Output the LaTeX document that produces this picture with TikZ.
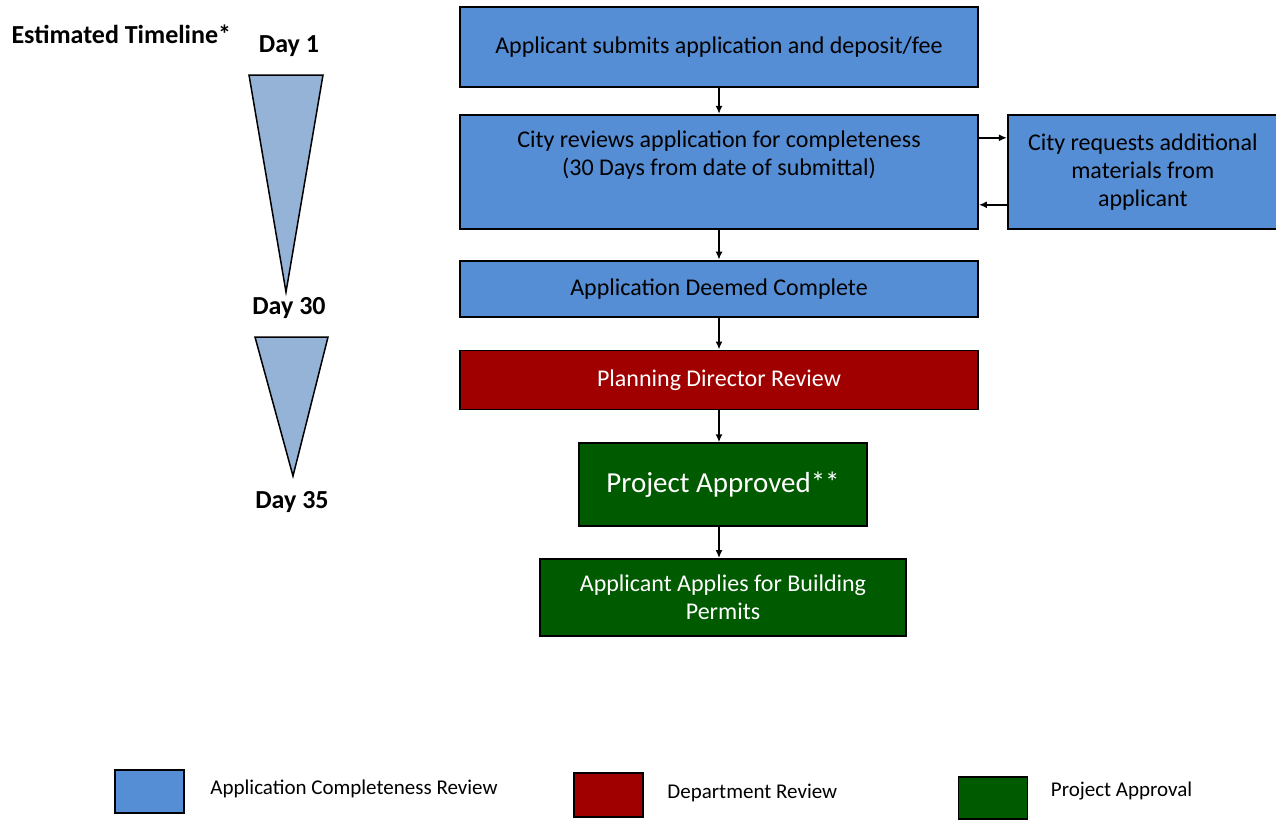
\documentclass[tikz,border=0pt]{standalone}
\usepackage{fontspec}
\setmainfont{Carlito}
\usetikzlibrary{arrows.meta, positioning}
\definecolor{reviewblue}{HTML}{558ED5}
\definecolor{deptred}{HTML}{A00000}
\definecolor{approvegreen}{HTML}{005A00}
\definecolor{wedgeblue}{HTML}{95B3D7}
\tikzset{
  box/.style={draw=black, line width=1.8pt, rectangle, align=center, inner sep=0pt},
  review/.style={box, fill=reviewblue, minimum width=518pt},
  dept/.style={box, fill=deptred, text=white, minimum width=518pt},
  approve/.style={box, fill=approvegreen, text=white},
  swatch/.style={draw, line width=1.8pt, minimum width=69pt, minimum height=43pt, inner sep=0pt},
  flow/.style={-{Latex[length=8pt,width=7pt]}, line width=1.8pt},
  wedge/.style={fill=wedgeblue, draw=black, line width=1.5pt},
  daylabel/.style={font=\fontsize{26}{30}\selectfont\bfseries},
  legendtext/.style={font=\fontsize{21}{24}\selectfont},
}

\begin{document}
\begin{tikzpicture}[x=1pt, y=-1pt, font=\fontsize{24}{28}\selectfont]
  \useasboundingbox (0,0) rectangle (1276,819);

  % timeline on the left
  \node[daylabel, anchor=west] (est) at (8,34) {Estimated Timeline*};
  \node[daylabel] (day1) at (289,46) {Day 1};
  \draw[wedge] (249,75) -- (323,75) -- (286,292) -- cycle;
  \node[daylabel] (day30) at (289,308) {Day 30};
  \draw[wedge] (255,337) -- (328,337) -- (293,476) -- cycle;
  \node[daylabel] (day35) at (292,502) {Day 35};

  % process
  \node[review, minimum height=80pt] (submit) at (719,47) {Applicant submits application and deposit/fee};
  \node[review, minimum height=114pt, below=26pt of submit] (check) {City reviews application for completeness\\(30 Days from date of submittal)\\\strut};
  \node[review, minimum width=270pt, minimum height=114pt, right=28pt of check] (request) {City requests additional\\materials from\\applicant};
  \node[review, minimum height=56pt, below=30pt of check] (complete) {Application Deemed Complete};
  \node[dept, minimum height=59pt, below=32pt of complete] (director) {Planning Director Review};
  \node[approve, minimum width=288pt, minimum height=83pt, below=32pt of director, xshift=4pt,
        font=\fontsize{29}{34}\selectfont] (approved) {Project Approved**};
  \node[approve, minimum width=366pt, minimum height=77pt, below=31pt of approved] (permits) {Applicant Applies for Building\\Permits};

  \draw[flow] (submit) -- (check);
  \draw[flow] ([yshift=34pt]check.east) -- ([yshift=34pt]request.west);
  \draw[flow] ([yshift=-33pt]request.west) -- ([yshift=-33pt]check.east);
  \draw[flow] (check) -- (complete);
  \draw[flow] (complete) -- (director);
  \draw[flow] (director.south) -- (director.south |- approved.north);
  \draw[flow] (director.south |- approved.south) -- (director.south |- permits.north);

  % legend
  \node[swatch, fill=reviewblue] (keyreview) at (149.5,791.5) {};
  \node[legendtext, right=22pt of keyreview, yshift=3pt] (keyreviewtext) {Application Completeness Review};
  \node[swatch, fill=deptred, minimum height=44pt] (keydept) at (608.5,795) {};
  \node[legendtext, right=20pt of keydept, yshift=2pt] (keydepttext) {Department Review};
  \node[swatch, fill=approvegreen, minimum height=42pt] (keyapprove) at (993,798) {};
  \node[legendtext, right=19pt of keyapprove, yshift=7pt] (keyapprovetext) {Project Approval};
\end{tikzpicture}
\end{document}
